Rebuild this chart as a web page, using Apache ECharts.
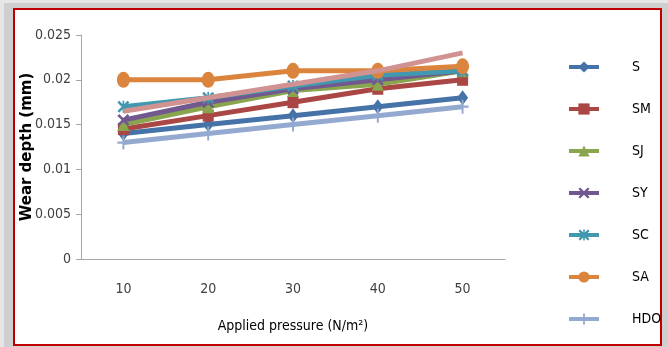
<!DOCTYPE html>
<html><head><meta charset="utf-8">
<script src="https://cdn.jsdelivr.net/npm/echarts@6/dist/echarts.min.js"></script>
<style>html,body{margin:0;padding:0;background:#fff}#c{width:668px;height:347px}</style>
</head><body><div id="c"></div>
<script>
var categories = ['10', '20', '30', '40', '50'];
var seriesNames = ['S', 'SM', 'SJ', 'SY', 'SC', 'SA', 'HDO'];
var S   = [0.014, 0.015, 0.016, 0.017, 0.018];
var SM  = [0.0145, 0.016, 0.0175, 0.019, 0.020];
var SJ  = [0.015, 0.017, 0.0188, 0.0195, 0.021];
var SY  = [0.0155, 0.0175, 0.019, 0.020, 0.021];
var SC  = [0.017, 0.018, 0.0193, 0.0205, 0.021];
var SA  = [0.020, 0.020, 0.021, 0.021, 0.0215];
var HDO = [0.013, 0.014, 0.015, 0.016, 0.017];
var extra = [0.0165, 0.018, 0.0195, 0.021, 0.023];

var FONT = "'DejaVu Sans Condensed','Liberation Sans Narrow','Liberation Sans',sans-serif";
var colors = ['#4572A7', '#AA4643', '#89A54E', '#71588F', '#4198AF', '#DB843D', '#93A9CF', '#D19392'];
var xPath = 'path://M0,1.5 L1.5,0 L5,3.5 L8.5,0 L10,1.5 L6.5,5 L10,8.5 L8.5,10 L5,6.5 L1.5,10 L0,8.5 L3.5,5 Z';
var plusPath = 'path://M4.2,0 H5.8 V4.2 H10 V5.8 H5.8 V10 H4.2 V5.8 H0 V4.2 H4.2 Z';
var starPath = 'path://M0,1.5 L1.5,0 L5,3.5 L8.5,0 L10,1.5 L6.5,5 L10,8.5 L8.5,10 L5,6.5 L1.5,10 L0,8.5 L3.5,5 Z M4.3,0 H5.7 V10 H4.3 Z';
var symbols = ['diamond', 'rect', 'triangle', xPath, starPath, 'circle', plusPath, 'none'];
var sizes = [[11, 15], [11, 12], [12, 13], [12, 12], [12, 12], [13, 16], [12, 14], 0];
var datas = [S, SM, SJ, SY, SC, SA, HDO, extra];
var names = seriesNames.concat(['']);

var series = datas.map(function (d, i) {
  return {
    name: names[i], type: 'line', data: d,
    symbol: symbols[i], symbolSize: sizes[i], showSymbol: symbols[i] !== 'none',
    lineStyle: { color: colors[i], width: 5 },
    itemStyle: { color: colors[i] },
    z: 2 + i, animation: false
  };
});

var chart = echarts.init(document.getElementById('c'));
chart.setOption({
  animation: false,
  graphic: [
    { type: 'rect', shape: { x: 0, y: 0, width: 668, height: 347 }, style: { fill: '#e6e6e6' }, z: -10 },
    { type: 'rect', shape: { x: 4, y: 3, width: 664, height: 344 }, style: { fill: '#cfcfcf' }, z: -9 },
    { type: 'rect', shape: { x: 14, y: 9, width: 647, height: 336 }, style: { fill: '#ffffff', stroke: '#c00000', lineWidth: 2 }, z: -8 }
  ],
  grid: { left: 81, right: 163, top: 35, bottom: 88 },
  legend: {
    data: seriesNames, orient: 'vertical', left: 562, top: 55,
    itemWidth: 30, itemHeight: 14, itemGap: 28,
    lineStyle: { width: 4 },
    textStyle: { fontFamily: FONT, fontSize: 14, color: '#000', padding: [0, 0, 0, 28] }
  },
  xAxis: {
    type: 'category', data: categories, boundaryGap: true,
    name: 'Applied pressure (N/m²)', nameLocation: 'middle', nameGap: 60,
    nameTextStyle: { fontFamily: FONT, fontSize: 14, color: '#000' },
    axisLine: { lineStyle: { color: '#a6a6a6', width: 1 } },
    axisTick: { show: false },
    axisLabel: { fontFamily: FONT, fontSize: 14, color: '#404040', margin: 23 }
  },
  yAxis: {
    type: 'value', min: 0, max: 0.025, interval: 0.005,
    name: 'Wear depth (mm)', nameLocation: 'middle', nameGap: 46, nameMoveOverlap: false,
    nameTextStyle: { fontFamily: "'DejaVu Sans',sans-serif", fontWeight: 'bold', fontSize: 15, color: '#000' },
    axisLine: { show: true, lineStyle: { color: '#a6a6a6', width: 1 } },
    axisTick: { show: true, length: 5, lineStyle: { color: '#a6a6a6' } },
    splitLine: { show: false },
    axisLabel: { fontFamily: FONT, fontSize: 14, color: '#404040', margin: 10 }
  },
  series: series
});
</script></body></html>
